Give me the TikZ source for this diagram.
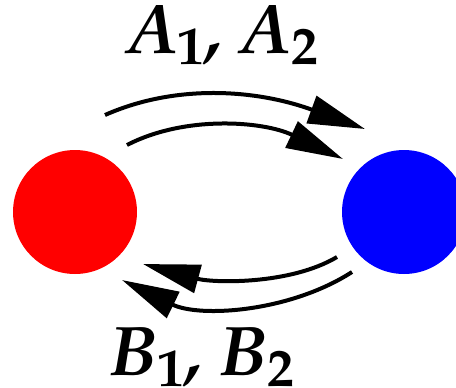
\documentclass[tikz,border=0pt]{standalone}
\usepackage[T1]{fontenc}
\usepackage{mathpazo}
\usepackage{amsmath}
\usepackage{tikz}
\usetikzlibrary{arrows.meta}

%% bold italic letter with an upright bold index
\newcommand{\statelab}[2]{\textit{#1}$_{\textup{#2}}$}

\begin{document}
\begin{tikzpicture}[
      x=0.02cm, y=-0.02cm,
      dot/.style={circle, inner sep=0pt, minimum size=2.48cm},
      arr/.style={-{Triangle[length=1.14cm, width=0.57cm]}, line width=0.08cm},
      lbl/.style={anchor=base, inner sep=0pt,
                  font=\fontsize{40}{44}\selectfont\bfseries\itshape}
  ]
  \useasboundingbox (0,0) rectangle (456,387);

  %% ---- the two states
  \node[dot, fill=red]  (red)  at (75,212)  {};
  \node[dot, fill=blue] (blue) at (404,212) {};

  %% ---- labels above and below
  \node[lbl] (atext) at (223,53)  {\statelab{A}{1}, \statelab{A}{2}};
  \node[lbl] (btext) at (203,375) {\statelab{B}{1}, \statelab{B}{2}};

  %% ---- free ends of the arrows, taken from the circles
  \coordinate (a1s) at ([shift={(30,-97)}]red.center);
  \coordinate (a2s) at ([shift={(52,-67)}]red.center);
  \coordinate (a1e) at ([shift={(-39,-83)}]blue.center);
  \coordinate (a2e) at ([shift={(-61,-53)}]blue.center);
  \coordinate (b1s) at ([shift={(-67,45)}]blue.center);
  \coordinate (b2s) at ([shift={(-52,60)}]blue.center);
  \coordinate (b1e) at ([shift={(68,52)}]red.center);
  \coordinate (b2e) at ([shift={(47,68)}]red.center);

  %% ---- arrows red -> blue (top)
  \draw[arr] (a1s) .. controls +(70,-31) and +(-110,-40) .. (a1e);
  \draw[arr] (a2s) .. controls +(58,-30) and +(-80,-38) .. (a2e);
  %% ---- arrows blue -> red (bottom)
  \draw[arr] (b1s) .. controls +(-47,28) and +(70,19) .. (b1e);
  \draw[arr] (b2s) .. controls +(-62,40) and +(78,38) .. (b2e);
\end{tikzpicture}
\end{document}
